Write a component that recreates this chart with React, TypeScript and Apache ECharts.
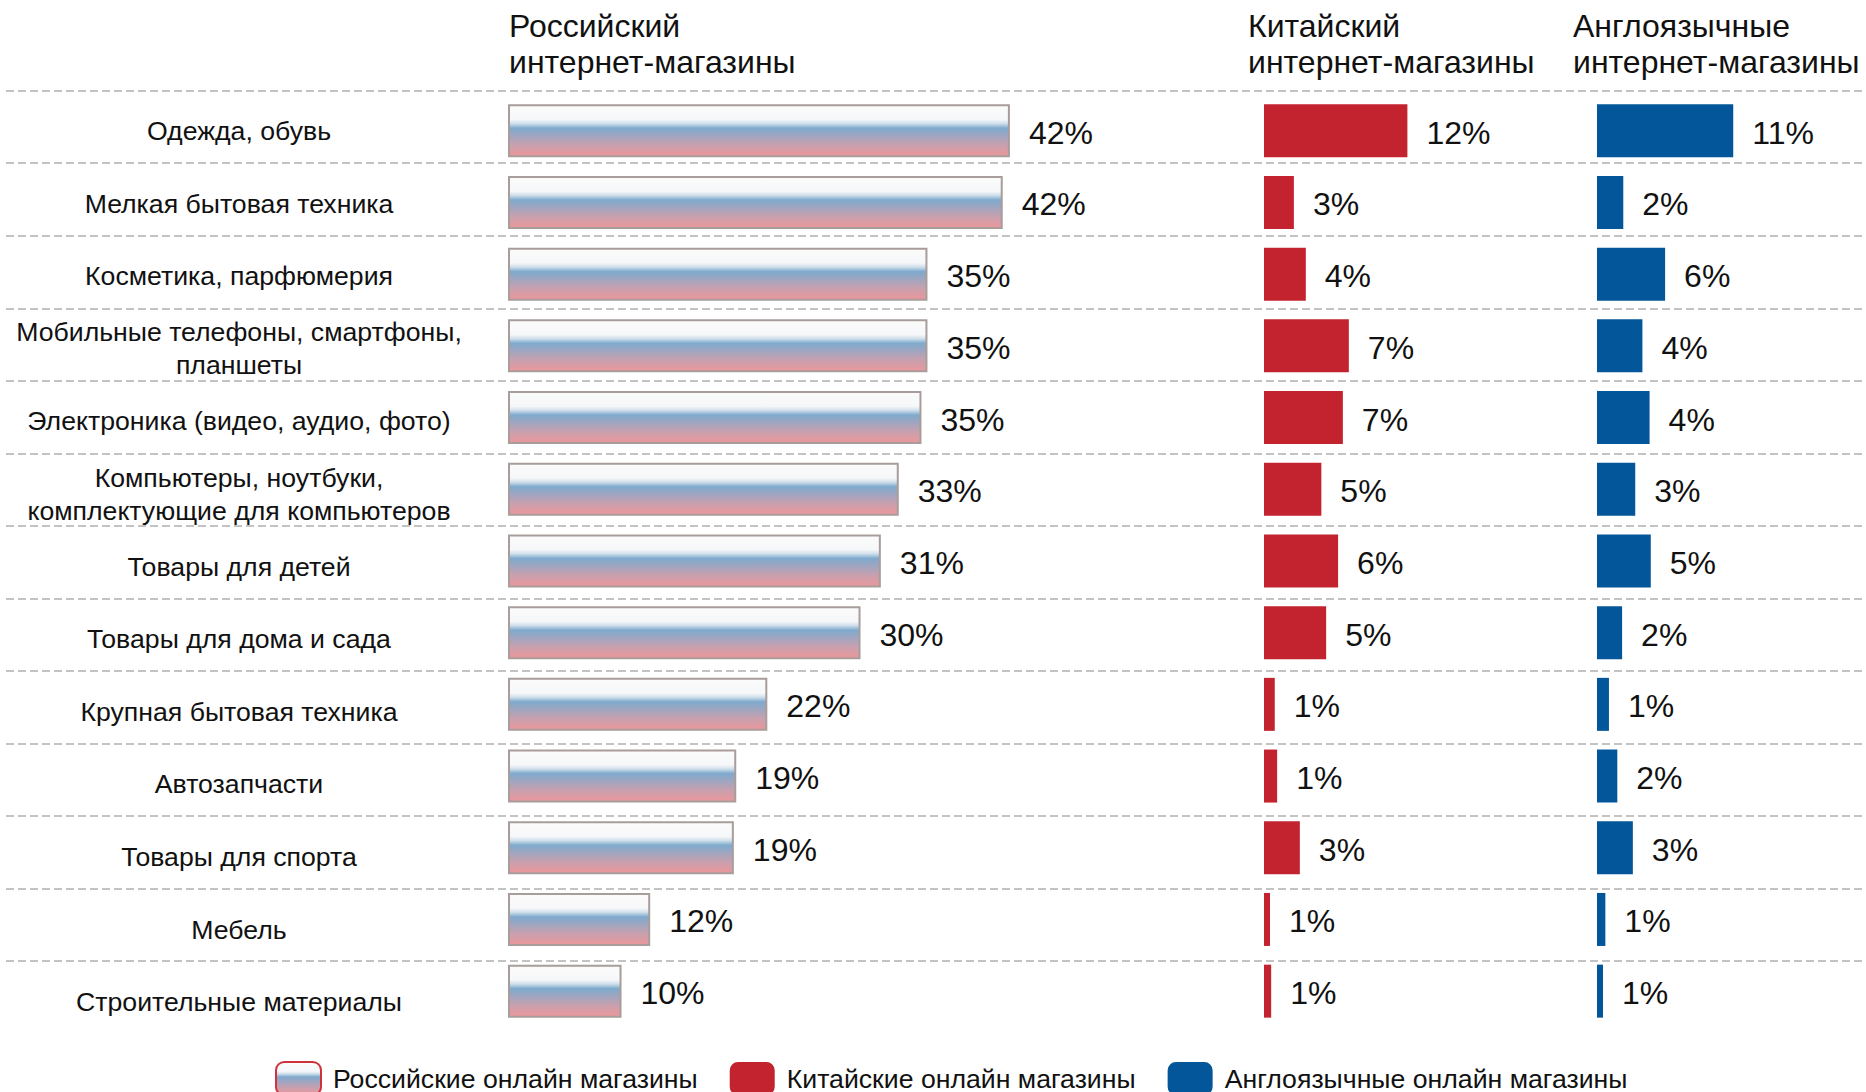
import React, { useEffect, useRef } from "react";
import * as echarts from "echarts";

const categories = [
  "Одежда, обувь",
  "Мелкая бытовая техника",
  "Косметика, парфюмерия",
  "Мобильные телефоны, смартфоны,\nпланшеты",
  "Электроника (видео, аудио, фото)",
  "Компьютеры, ноутбуки,\nкомплектующие для компьютеров",
  "Товары для детей",
  "Товары для дома и сада",
  "Крупная бытовая техника",
  "Автозапчасти",
  "Товары для спорта",
  "Мебель",
  "Строительные материалы",
];

const seriesNames = [
  "Российские онлайн магазины",
  "Китайские онлайн магазины",
  "Англоязычные онлайн магазины",
];

const headers = [
  "Российский\nинтернет-магазины",
  "Китайский\nинтернет-магазины",
  "Англоязычные\nинтернет-магазины",
];

const ruValues = [42.0, 41.4, 35.1, 35.1, 34.6, 32.7, 31.2, 29.5, 21.7, 19.1, 18.9, 11.9, 9.5];
const ruLabels = ["42%", "42%", "35%", "35%", "35%", "33%", "31%", "30%", "22%", "19%", "19%", "12%", "10%"];
const cnValues = [12.0, 2.5, 3.5, 7.1, 6.6, 4.8, 6.2, 5.2, 0.9, 1.1, 3.0, 0.5, 0.6];
const cnLabels = ["12%", "3%", "4%", "7%", "7%", "5%", "6%", "5%", "1%", "1%", "3%", "1%", "1%"];
const enValues = [11.4, 2.2, 5.7, 3.8, 4.4, 3.2, 4.5, 2.1, 1.0, 1.7, 3.0, 0.7, 0.5];
const enLabels = ["11%", "2%", "6%", "4%", "4%", "3%", "5%", "2%", "1%", "2%", "3%", "1%", "1%"];

const FONT = '"Liberation Sans", Arial, sans-serif';

export default function App() {
  const ref = useRef<HTMLDivElement>(null);

  useEffect(() => {
    if (!ref.current) return;
    const chart = echarts.init(ref.current, undefined, { renderer: "svg" });

    const ruGradient = new echarts.graphic.LinearGradient(0, 0, 0, 1, [
      { offset: 0, color: "#fbfbfb" },
      { offset: 0.28, color: "#f6f7f9" },
      { offset: 0.36, color: "#cfdfeb" },
      { offset: 0.45, color: "#7eaacd" },
      { offset: 0.58, color: "#9ba6c2" },
      { offset: 0.78, color: "#c9a0ae" },
      { offset: 1, color: "#ec979a" },
    ]);

    const barTop = 94.9;
    const barHeight = 13 * 71.7;
    const pxPerPct = 11.95;

    const labelStyle = (labels: string[]) => ({
      show: true,
      position: "right",
      distance: 19,
      offset: [0, 2],
      fontSize: 32,
      fontFamily: FONT,
      color: "#111",
      formatter: (p: any) => labels[p.dataIndex],
    });

    const option: any = {
      animation: false,
      backgroundColor: "#ffffff",
      textStyle: { fontFamily: FONT },
      grid: [
        { left: 508, top: barTop, width: 50 * pxPerPct, height: barHeight },
        { left: 1264, top: barTop, width: 20 * pxPerPct, height: barHeight },
        { left: 1597, top: barTop, width: 20 * pxPerPct, height: barHeight },
        { left: 239, top: 94.7, width: 1, height: 13 * 72.6 },
        { left: 6, right: 0, top: 90.7, height: 870.3 },
      ],
      xAxis: [
        { gridIndex: 0, type: "value", min: 0, max: 50, show: false },
        { gridIndex: 1, type: "value", min: 0, max: 20, show: false },
        { gridIndex: 2, type: "value", min: 0, max: 20, show: false },
        { gridIndex: 3, type: "value", min: 0, max: 1, show: false },
        { gridIndex: 4, type: "value", min: 0, max: 1, show: false },
      ],
      yAxis: [
        { gridIndex: 0, type: "category", data: categories, inverse: true, show: false },
        { gridIndex: 1, type: "category", data: categories, inverse: true, show: false },
        { gridIndex: 2, type: "category", data: categories, inverse: true, show: false },
        {
          gridIndex: 3,
          type: "category",
          data: categories,
          inverse: true,
          axisLine: { show: false },
          axisTick: { show: false },
          splitLine: { show: false },
          axisLabel: {
            margin: 0,
            align: "center",
            fontSize: 26.67,
            lineHeight: 33,
            fontFamily: FONT,
            color: "#111",
          },
        },
        {
          gridIndex: 4,
          type: "value",
          min: 0,
          max: 12,
          interval: 1,
          axisLine: { show: false },
          axisTick: { show: false },
          axisLabel: { show: false },
          splitLine: {
            show: true,
            lineStyle: { color: "#c3c3c3", width: 2, type: [8, 4] },
          },
        },
      ],
      legend: {
        left: 275,
        top: 1061,
        padding: 0,
        itemWidth: 45,
        itemHeight: 33,
        itemGap: 32,
        icon: "roundRect",
        textStyle: { fontSize: 26.67, fontFamily: FONT, color: "#111", padding: [0, 0, 0, 7] },
        data: [
          { name: seriesNames[0], itemStyle: { color: ruGradient, borderColor: "#d0313c", borderWidth: 2 } },
          { name: seriesNames[1], itemStyle: { color: "#c3232f" } },
          { name: seriesNames[2], itemStyle: { color: "#035699" } },
        ],
      },
      graphic: [
        {
          type: "text",
          x: 509,
          y: 8,
          style: { text: headers[0], font: `32px ${FONT}`, lineHeight: 36, fill: "#111", verticalAlign: "top" },
        },
        {
          type: "text",
          x: 1248,
          y: 8,
          style: { text: headers[1], font: `32px ${FONT}`, lineHeight: 36, fill: "#111", verticalAlign: "top" },
        },
        {
          type: "text",
          x: 1573,
          y: 8,
          style: { text: headers[2], font: `32px ${FONT}`, lineHeight: 36, fill: "#111", verticalAlign: "top" },
        },
      ],
      series: [
        {
          name: seriesNames[0],
          type: "bar",
          xAxisIndex: 0,
          yAxisIndex: 0,
          data: ruValues,
          barWidth: 53,
          itemStyle: { color: ruGradient, borderColor: "#a89d9b", borderWidth: 2 },
          label: labelStyle(ruLabels),
        },
        {
          name: seriesNames[1],
          type: "bar",
          xAxisIndex: 1,
          yAxisIndex: 1,
          data: cnValues,
          barWidth: 53,
          itemStyle: { color: "#c3232f" },
          label: labelStyle(cnLabels),
        },
        {
          name: seriesNames[2],
          type: "bar",
          xAxisIndex: 2,
          yAxisIndex: 2,
          data: enValues,
          barWidth: 53,
          itemStyle: { color: "#035699" },
          label: labelStyle(enLabels),
        },
      ],
    };

    chart.setOption(option);
    return () => chart.dispose();
  }, []);

  return (
    <div
      ref={ref}
      style={{ position: "absolute", left: 0, top: 0, width: 1866, height: 1092, background: "#fff" }}
    />
  );
}
